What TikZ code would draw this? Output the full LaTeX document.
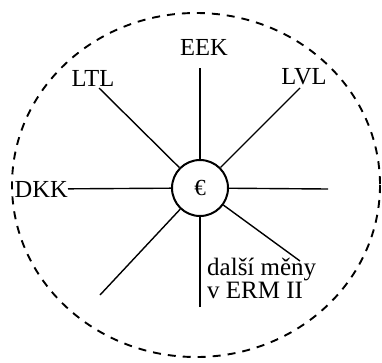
\documentclass[tikz,border=0pt]{standalone}
\usepackage{fontspec}
\setmainfont{Liberation Serif}
\begin{document}
\begin{tikzpicture}[x=1pt,y=-1pt,
  spoke/.style={line width=1.4pt},
  lbl/.style={font=\fontsize{24.5}{20}\selectfont, inner sep=0pt},
  outer/.style={line width=1.9pt, dash pattern=on 8pt off 7pt},
  hub/.style={circle, draw, line width=2pt, minimum size=56pt, inner sep=0pt, font=\fontsize{23}{23}\selectfont}]
\useasboundingbox (0,0) rectangle (382,362);
\draw[outer] (196,185) ellipse [x radius=184, y radius=172];
\node[hub] (c) at (200,188) {€};
\node[lbl] (eek) at (204,47) {EEK};
\node[lbl] (ltl) at (93,78) {LTL};
\node[lbl] (lvl) at (304,77) {LVL};
\node[lbl, anchor=east] (dkk) at (68,189) {DKK};
\node[lbl, font=\fontsize{25}{20}\selectfont, align=left, anchor=north west] (other) at (207,258) {další měny\\v ERM II};
\coordinate (tN) at (200,68);
\coordinate (tS) at (200,307);
\coordinate (tE) at (328,189);
\coordinate (tNW) at (99,88);
\coordinate (tNE) at (300,88);
\coordinate (tSW) at (100,295);
\coordinate (tSE) at (300,261);
\foreach \t in {tN,tS,tE,tNW,tNE,tSW,tSE} \draw[spoke] (\t) -- (c);
\draw[spoke] (dkk) -- (c);
\end{tikzpicture}
\end{document}
